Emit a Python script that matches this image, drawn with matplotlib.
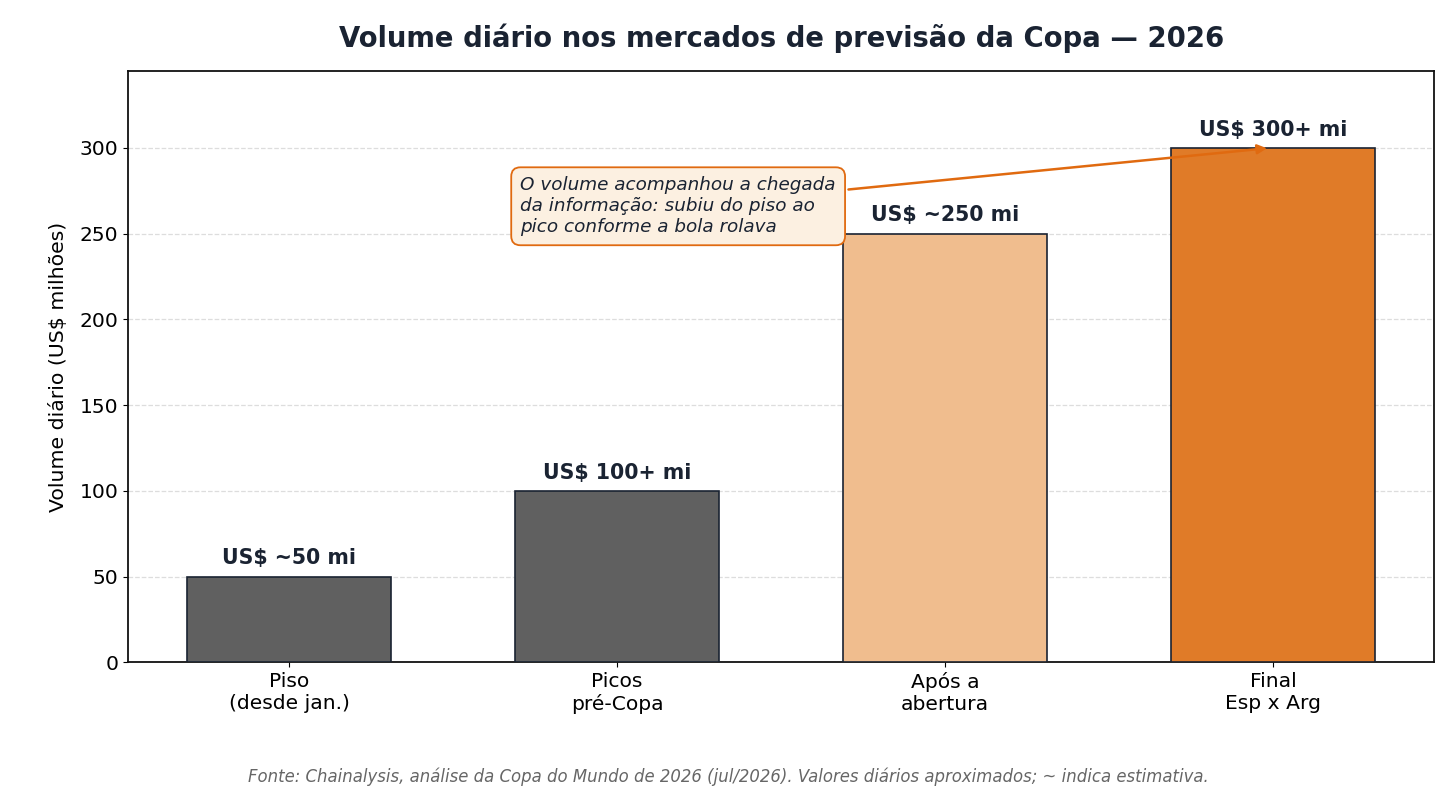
import matplotlib.pyplot as plt

FONTE = "DejaVu Sans"
plt.rcParams["font.family"] = [FONTE]

categorias = ["Piso\n(desde jan.)", "Picos\npré-Copa", "Após a\nabertura", "Final\nEsp x Arg"]
volumes = [50, 100, 250, 300]
rotulos = ["US$ ~50 mi", "US$ 100+ mi", "US$ ~250 mi", "US$ 300+ mi"]
cores = ["#606060", "#606060", "#F0BD8E", "#E07B28"]
yticks = [0, 50, 100, 150, 200, 250, 300]

navy = "#1a2332"

fig, ax = plt.subplots(figsize=(14.56, 7.96), dpi=100)
fig.subplots_adjust(left=0.088, right=0.985, top=0.911, bottom=0.168)

x = list(range(len(categorias)))
bars = ax.bar(x, volumes, width=0.62, color=cores, edgecolor=navy, linewidth=1.2, zorder=3)

for b, txt in zip(bars, rotulos):
    ax.annotate(txt, (b.get_x() + b.get_width() / 2, b.get_height()),
                xytext=(0, 6), textcoords="offset points", ha="center", va="bottom",
                fontsize=14.8, fontweight="bold", color=navy, family=FONTE, zorder=4)

ax.set_ylim(0, 345)
ax.set_xticks(x)
ax.set_xticklabels(categorias, fontsize=14.6, family=FONTE)
ax.set_yticks(yticks)
ax.set_yticklabels([str(v) for v in yticks], fontsize=14.6, family=FONTE)
ax.set_ylabel("Volume diário (US$ milhões)", fontsize=14.7, family=FONTE, labelpad=8)
ax.yaxis.grid(True, linestyle="--", color="#dddddd", linewidth=0.9, zorder=0)
ax.set_axisbelow(True)
for s in ax.spines.values():
    s.set_color("#111111")
    s.set_linewidth(1.3)

ax.set_title("Volume diário nos mercados de previsão da Copa — 2026",
             fontsize=19.8, fontweight="bold", color=navy, pad=17, family=FONTE)

ax.annotate("O volume acompanhou a chegada\nda informação: subiu do piso ao\npico conforme a bola rolava",
            xy=(2.99, 300), xytext=(0.705, 266), ha="left", va="center",
            fontsize=13.2, style="italic", color=navy, family=FONTE,
            bbox=dict(boxstyle="round,pad=0.5", facecolor="#FCF0E1", edgecolor="#E06A10", linewidth=1.3),
            arrowprops=dict(arrowstyle="-|>", color="#E06A10", lw=1.8, mutation_scale=14),
            zorder=5)

fig.text(0.5, 0.024, "Fonte: Chainalysis, análise da Copa do Mundo de 2026 (jul/2026). Valores diários aproximados; ~ indica estimativa.",
         ha="center", va="center", fontsize=11.9, style="italic", color="#666666", family=FONTE)

fig.savefig("out.png", dpi=100)
